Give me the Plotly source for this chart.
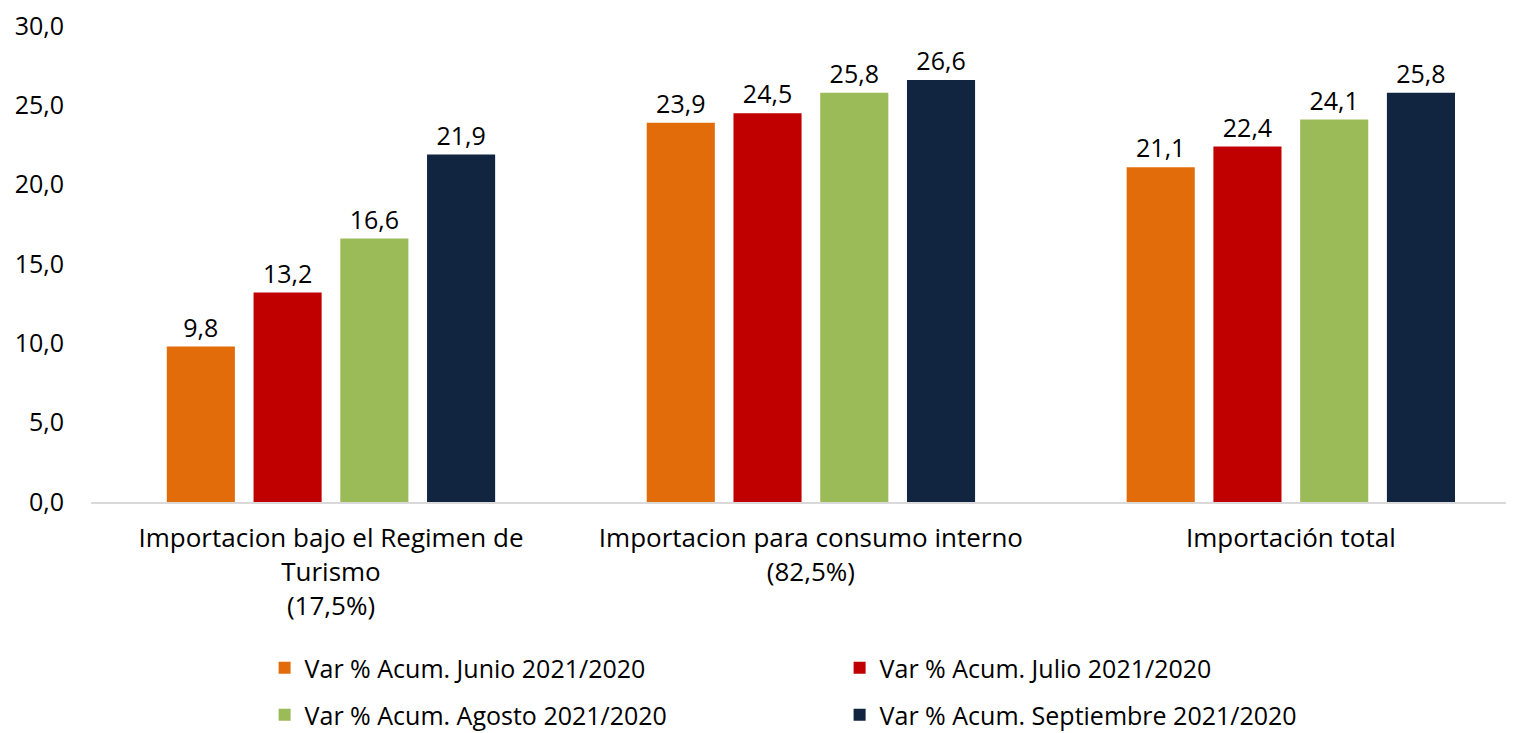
import plotly.graph_objects as go

categories = [
    "Importacion bajo el Regimen de<br>Turismo<br>(17,5%)",
    "Importacion para consumo interno<br>(82,5%)",
    "Importación total",
]
series_names = [
    "Var % Acum. Junio 2021/2020",
    "Var % Acum. Julio 2021/2020",
    "Var % Acum. Agosto 2021/2020",
    "Var % Acum. Septiembre 2021/2020",
]
junio = [9.8, 23.9, 21.1]
julio = [13.2, 24.5, 22.4]
agosto = [16.6, 25.8, 24.1]
septiembre = [21.9, 26.6, 25.8]
colors = ["#E36C0A", "#C00000", "#9BBB59", "#112541"]
y_ticks = [0, 5, 10, 15, 20, 25, 30]

FONT = "Open Sans"
legends = ["legend", "legend", "legend2", "legend2"]
fig = go.Figure()
for name, vals, col, lg in zip(series_names, [junio, julio, agosto, septiembre], colors, legends):
    fig.add_trace(go.Bar(
        x=categories, y=vals, name=name, legend=lg,
        marker=dict(color=col, line=dict(width=10, color="rgba(0,0,0,0)")),
        text=vals, texttemplate="%{y:.1f}", textposition="outside",
        textfont=dict(family=FONT, size=25, color="#000000"),
        cliponaxis=False,
    ))

TOP = 18
H = 725
BOT = 231
plot_h = H - TOP - BOT
leg_common = dict(
    orientation="h", x=0.122, xanchor="left", yanchor="middle",
    entrywidth=530, entrywidthmode="pixels",
    font=dict(family=FONT, size=25, color="#000000"),
    traceorder="normal", bgcolor="rgba(0,0,0,0)",
)
fig.update_layout(
    width=1506, height=H,
    margin=dict(l=83, r=0, t=TOP, b=BOT, autoexpand=False),
    paper_bgcolor="white", plot_bgcolor="white",
    separators=", ",
    barmode="group", bargap=0.277, bargroupgap=0.215,
    font=dict(family=FONT, size=25, color="#000000"),
    showlegend=True,
    legend=dict(y=-(668 - 502) / plot_h, **leg_common),
    legend2=dict(y=-(715 - 502) / plot_h, **leg_common),
)
fig.update_xaxes(
    range=[-0.5, 2.465], showline=True, linecolor="#D9D9D9", linewidth=2,
    showgrid=False, ticks="", tickfont=dict(family=FONT, size=26),
    ticklabelstandoff=12,
)
fig.update_yaxes(
    range=[0, 30], tickvals=y_ticks, tickformat=".1f", showgrid=False,
    zeroline=False, showline=False, ticks="", ticklabelstandoff=26,
    ticklabeloverflow="allow",
    tickfont=dict(family=FONT, size=25),
)
fig.write_html("out.html")
